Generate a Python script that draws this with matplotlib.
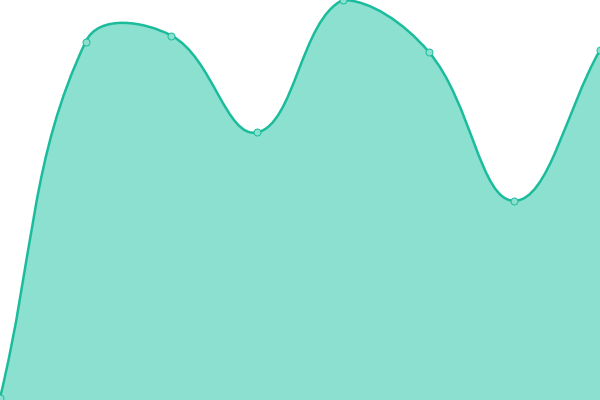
import matplotlib
matplotlib.use("Agg")
import matplotlib.pyplot as plt
import numpy as np
from matplotlib.path import Path
from matplotlib.patches import PathPatch

labels = ["A", "B", "C", "D", "E", "F", "G", "H"]
values = [0.5, 89.6, 91.1, 66.9, 100.0, 87.1, 49.8, 87.5]

line_color = "#1abc9c"
fill_color = "#8ce0d0"
tension = 0.4

fig = plt.figure(figsize=(6, 4), dpi=100)
ax = fig.add_axes([0, 0, 1, 1])
ax.set_xlim(0, len(values) - 1)
ax.set_ylim(0, 100)
ax.axis("off")

# work in pixel space like a canvas chart does
xs = np.arange(len(values))
pts = ax.transData.transform(np.column_stack([xs, values]))
x0, y0 = ax.transData.transform((0, 0))
x1, y1 = ax.transData.transform((len(values) - 1, 100))

cps_prev, cps_next = [], []
for i, cur in enumerate(pts):
    prev = pts[i - 1] if i > 0 else cur
    nxt = pts[i + 1] if i < len(pts) - 1 else cur
    d01 = np.hypot(*(cur - prev))
    d12 = np.hypot(*(nxt - cur))
    tot = d01 + d12
    s01 = d01 / tot if tot else 0
    s12 = d12 / tot if tot else 0
    cp_prev = cur - tension * s01 * (nxt - prev)
    cp_next = cur + tension * s12 * (nxt - prev)
    # keep control points inside the plot area
    cp_prev = np.clip(cp_prev, [x0, y0], [x1, y1])
    cp_next = np.clip(cp_next, [x0, y0], [x1, y1])
    cps_prev.append(cp_prev)
    cps_next.append(cp_next)

inv = ax.transData.inverted()
verts = [pts[0]]
codes = [Path.MOVETO]
for i in range(1, len(pts)):
    verts += [cps_next[i - 1], cps_prev[i], pts[i]]
    codes += [Path.CURVE4] * 3
verts = inv.transform(np.array(verts))

line_path = Path(verts, codes)
fill_verts = np.vstack([verts, [[xs[-1], 0], [xs[0], 0], verts[0]]])
fill_codes = codes + [Path.LINETO, Path.LINETO, Path.CLOSEPOLY]
fill_path = Path(fill_verts, fill_codes)

ax.add_patch(PathPatch(fill_path, facecolor=fill_color, edgecolor="none"))
ax.add_patch(PathPatch(line_path, facecolor="none", edgecolor=line_color, linewidth=1.8))
ax.plot(xs, values, linestyle="none", marker="o", markersize=5,
        markerfacecolor=fill_color, markeredgecolor=line_color, markeredgewidth=0.7)

fig.savefig("out.png", dpi=100)
